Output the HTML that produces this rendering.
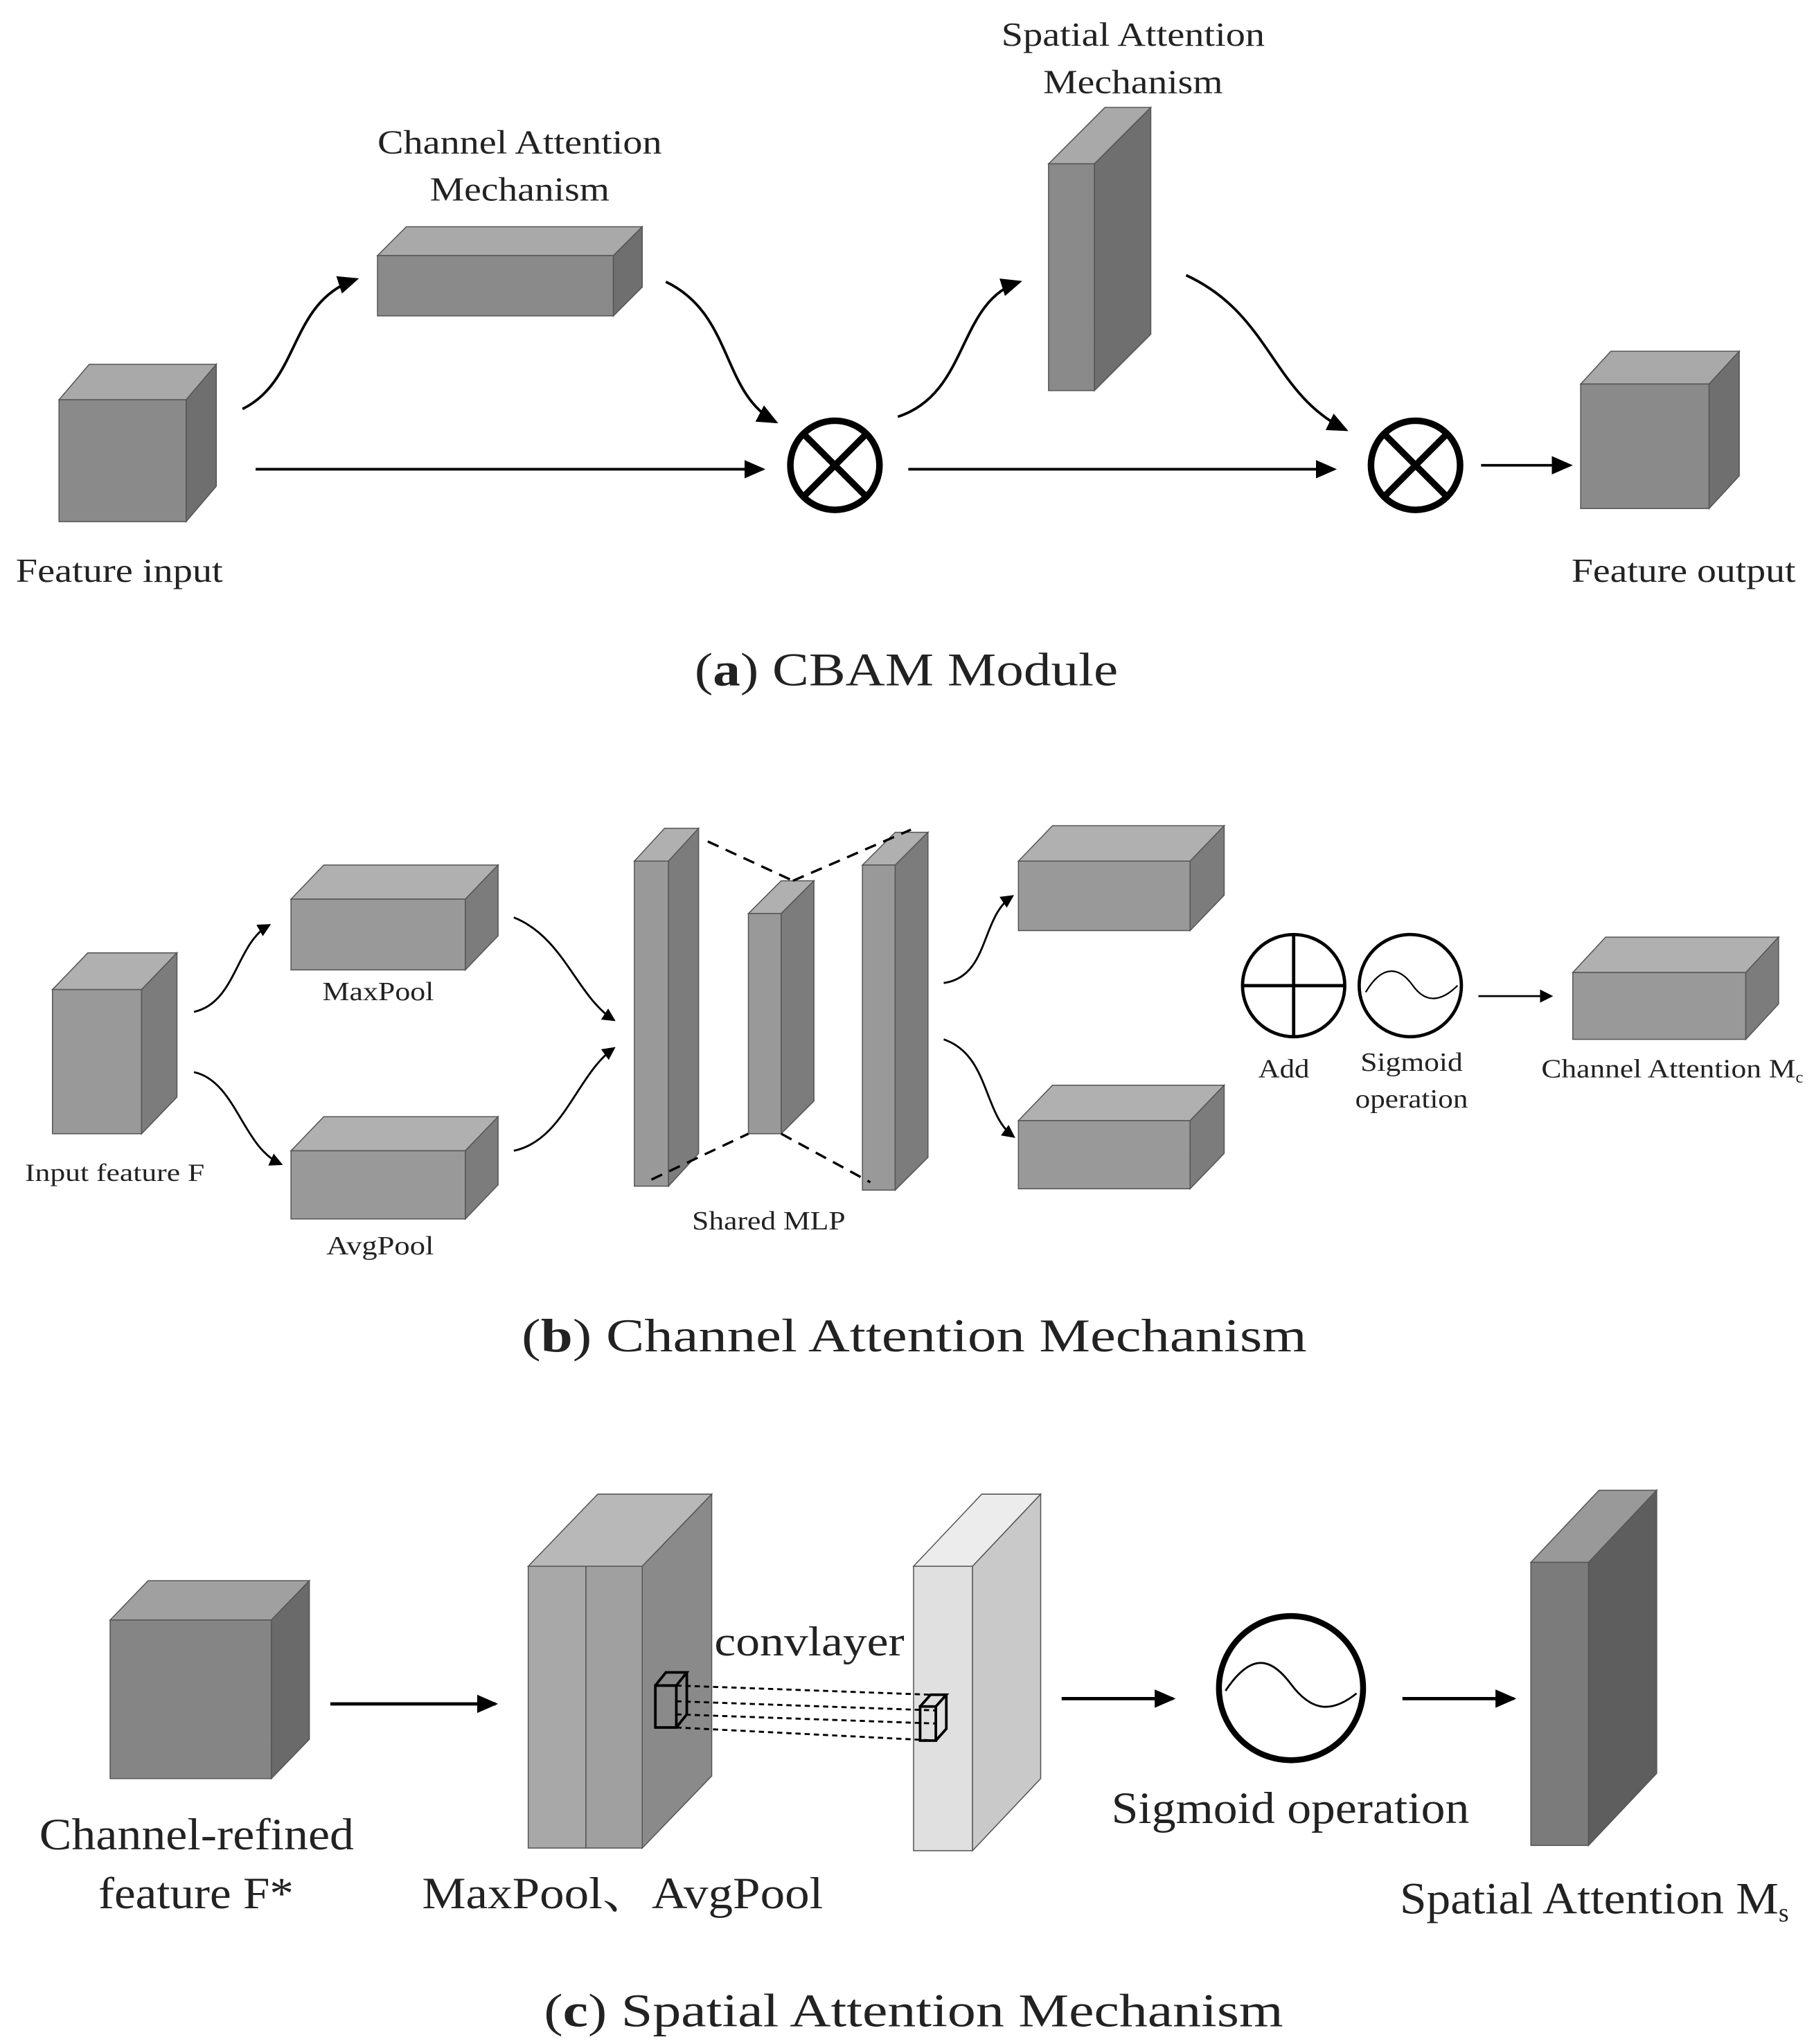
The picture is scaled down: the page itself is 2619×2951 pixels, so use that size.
<!DOCTYPE html>
<html><head><meta charset="utf-8"><style>
html,body{margin:0;padding:0;background:#fff;}
svg{display:block;}
text{font-family:"Liberation Serif","Noto Serif CJK SC",serif;fill:#222;}
</style></head><body>
<svg width="2619" height="2951" viewBox="0 0 1384 1559.5" xmlns="http://www.w3.org/2000/svg">
<defs>
<marker id="ah" markerWidth="10" markerHeight="10" refX="8" refY="5" orient="auto" markerUnits="userSpaceOnUse" viewBox="0 0 10 10">
<path d="M0,0 L10,5 L0,10 z" fill="#000"/></marker>
<marker id="ah2" markerWidth="16" markerHeight="14" refX="14" refY="7" orient="auto" markerUnits="userSpaceOnUse" viewBox="0 0 16 14">
<path d="M0,0 L16,7 L0,14 z" fill="#000"/></marker>
</defs>
<g id="cubes" stroke="#555" stroke-width="0.8">
<polygon points="45,305 68,278 165,278 142,305" fill="#a9a9a9"/><rect x="45" y="305" width="97" height="93" fill="#8a8a8a"/><polygon points="142,305 165,278 165,371 142,398" fill="#6f6f6f"/>
<polygon points="288,195 310,173 490,173 468,195" fill="#a9a9a9"/><rect x="288" y="195" width="180" height="46" fill="#8a8a8a"/><polygon points="468,195 490,173 490,219 468,241" fill="#6f6f6f"/>
<polygon points="800,125 843,82 878,82 835,125" fill="#a9a9a9"/><rect x="800" y="125" width="35" height="173" fill="#8a8a8a"/><polygon points="835,125 878,82 878,255 835,298" fill="#6f6f6f"/>
<polygon points="1206,293 1229,268 1327,268 1304,293" fill="#a9a9a9"/><rect x="1206" y="293" width="98" height="95" fill="#8a8a8a"/><polygon points="1304,293 1327,268 1327,363 1304,388" fill="#6f6f6f"/>
<polygon points="40,755 67,727 135,727 108,755" fill="#b0b0b0"/><rect x="40" y="755" width="68" height="110" fill="#999"/><polygon points="108,755 135,727 135,837 108,865" fill="#7c7c7c"/>
<polygon points="222,686 247,660 380,660 355,686" fill="#b0b0b0"/><rect x="222" y="686" width="133" height="54" fill="#999"/><polygon points="355,686 380,660 380,714 355,740" fill="#7c7c7c"/>
<polygon points="222,878 247,852 380,852 355,878" fill="#b0b0b0"/><rect x="222" y="878" width="133" height="52" fill="#999"/><polygon points="355,878 380,852 380,904 355,930" fill="#7c7c7c"/>
<polygon points="484,657 507,632 533,632 510,657" fill="#b0b0b0"/><rect x="484" y="657" width="26" height="248" fill="#999"/><polygon points="510,657 533,632 533,880 510,905" fill="#7c7c7c"/>
<polygon points="571,697 596,672 621,672 596,697" fill="#b0b0b0"/><rect x="571" y="697" width="25" height="168" fill="#999"/><polygon points="596,697 621,672 621,840 596,865" fill="#7c7c7c"/>
<polygon points="658,660 683,635 708,635 683,660" fill="#b0b0b0"/><rect x="658" y="660" width="25" height="248" fill="#999"/><polygon points="683,660 708,635 708,883 683,908" fill="#7c7c7c"/>
<polygon points="777,657 803,630 934,630 908,657" fill="#b0b0b0"/><rect x="777" y="657" width="131" height="53" fill="#999"/><polygon points="908,657 934,630 934,683 908,710" fill="#7c7c7c"/>
<polygon points="777,855 803,828 934,828 908,855" fill="#b0b0b0"/><rect x="777" y="855" width="131" height="52" fill="#999"/><polygon points="908,855 934,828 934,880 908,907" fill="#7c7c7c"/>
<polygon points="1200,742 1225,715 1357,715 1332,742" fill="#b0b0b0"/><rect x="1200" y="742" width="132" height="51" fill="#999"/><polygon points="1332,742 1357,715 1357,766 1332,793" fill="#7c7c7c"/>
<polygon points="84,1236 113,1206 236,1206 207,1236" fill="#a0a0a0"/><rect x="84" y="1236" width="123" height="121" fill="#858585"/><polygon points="207,1236 236,1206 236,1327 207,1357" fill="#6a6a6a"/>
<polygon points="403,1195 456,1140 543,1140 490,1195" fill="#b8b8b8"/><rect x="403" y="1195" width="44" height="215" fill="#a8a8a8"/><rect x="447" y="1195" width="43" height="215" fill="#a0a0a0"/><polygon points="490,1195 543,1140 543,1355 490,1410" fill="#8a8a8a"/>
<polygon points="697,1195 749,1140 794,1140 742,1195" fill="#ececec"/><rect x="697" y="1195" width="45" height="217" fill="#e0e0e0"/><polygon points="742,1195 794,1140 794,1357 742,1412" fill="#c9c9c9"/>
<polygon points="1168,1192 1220,1137 1264,1137 1212,1192" fill="#999"/><rect x="1168" y="1192" width="44" height="216" fill="#7b7b7b"/><polygon points="1212,1192 1264,1137 1264,1353 1212,1408" fill="#5e5e5e"/>
</g>
<g fill="none" stroke="#000" stroke-width="2">
<line x1="195" y1="358" x2="582" y2="358" marker-end="url(#ah2)"/>
<line x1="693" y1="358" x2="1018" y2="358" marker-end="url(#ah2)"/>
<line x1="1130" y1="355" x2="1198" y2="355" marker-end="url(#ah2)"/>
<path d="M185,312 C230,290 220,230 272,213" marker-end="url(#ah2)"/>
<path d="M508,215 C560,240 550,300 592,322" marker-end="url(#ah2)"/>
<path d="M685,318 C740,300 730,230 778,215" marker-end="url(#ah2)"/>
<path d="M905,210 C970,240 970,300 1027,328" marker-end="url(#ah2)"/>
</g>
<g fill="none" stroke="#000" stroke-width="5">
<circle cx="637" cy="355" r="34"/><line x1="613" y1="331" x2="661" y2="379"/><line x1="661" y1="331" x2="613" y2="379"/>
<circle cx="1080" cy="355" r="34"/><line x1="1056" y1="331" x2="1104" y2="379"/><line x1="1104" y1="331" x2="1056" y2="379"/>
</g>
<g lengthAdjust="spacingAndGlyphs">
<text x="288" y="117" font-size="26" textLength="217" lengthAdjust="spacingAndGlyphs">Channel Attention</text>
<text x="328" y="153" font-size="26" textLength="137" lengthAdjust="spacingAndGlyphs">Mechanism</text>
<text x="764" y="35" font-size="26" textLength="201" lengthAdjust="spacingAndGlyphs">Spatial Attention</text>
<text x="796" y="71" font-size="26" textLength="137" lengthAdjust="spacingAndGlyphs">Mechanism</text>
<text x="12" y="444" font-size="26" textLength="158" lengthAdjust="spacingAndGlyphs">Feature input</text>
<text x="1199" y="444" font-size="26" textLength="171" lengthAdjust="spacingAndGlyphs">Feature output</text>
<text x="530" y="523" font-size="36" textLength="323" lengthAdjust="spacingAndGlyphs">(<tspan font-weight="bold">a</tspan>) CBAM Module</text>
</g>
<g fill="none" stroke="#000" stroke-width="1.5">
<path d="M148,772 C180,765 180,720 205,706" marker-end="url(#ah)"/>
<path d="M148,818 C180,825 185,875 214,888" marker-end="url(#ah)"/>
<path d="M392,700 C430,715 440,760 468,778" marker-end="url(#ah)"/>
<path d="M392,878 C430,870 440,820 468,800" marker-end="url(#ah)"/>
<path d="M720,750 C755,745 748,700 772,684" marker-end="url(#ah)"/>
<path d="M720,793 C755,805 750,850 773,867" marker-end="url(#ah)"/>
<line x1="1128" y1="760" x2="1183" y2="760" marker-end="url(#ah)"/>
</g>
<g fill="none" stroke="#000" stroke-width="1.8" stroke-dasharray="9,6">
<line x1="540" y1="642" x2="605" y2="672"/><line x1="605" y1="672" x2="695" y2="633"/>
<line x1="497" y1="900" x2="571" y2="865"/><line x1="596" y1="865" x2="664" y2="902"/>
</g>
<g fill="none" stroke="#000" stroke-width="2.5">
<circle cx="987" cy="752" r="39"/><line x1="948" y1="752" x2="1026" y2="752"/><line x1="987" y1="713" x2="987" y2="791"/>
<circle cx="1076" cy="752" r="39"/>
</g>
<path d="M1042,757 C1055,735 1068,738 1078,752 C1088,766 1100,764 1112,752" fill="none" stroke="#000" stroke-width="1.2"/>
<text x="246" y="763" font-size="20" textLength="85" lengthAdjust="spacingAndGlyphs">MaxPool</text>
<text x="249" y="957" font-size="20" textLength="82" lengthAdjust="spacingAndGlyphs">AvgPool</text>
<text x="19" y="901" font-size="19" textLength="137" lengthAdjust="spacingAndGlyphs">Input feature F</text>
<text x="528" y="938" font-size="20" textLength="117" lengthAdjust="spacingAndGlyphs">Shared MLP</text>
<text x="960" y="822" font-size="20" textLength="39" lengthAdjust="spacingAndGlyphs">Add</text>
<text x="1038" y="817" font-size="20" textLength="78" lengthAdjust="spacingAndGlyphs">Sigmoid</text>
<text x="1034" y="845" font-size="20" textLength="86" lengthAdjust="spacingAndGlyphs">operation</text>
<text x="1176" y="822" font-size="20"><tspan textLength="194" lengthAdjust="spacingAndGlyphs">Channel Attention M</tspan><tspan font-size="13" dy="4">c</tspan></text>
<text x="398" y="1031" font-size="36" textLength="599" lengthAdjust="spacingAndGlyphs">(<tspan font-weight="bold">b</tspan>) Channel Attention Mechanism</text>
<g fill="none" stroke="#000" stroke-width="2.5">
<line x1="252" y1="1300" x2="378" y2="1300" marker-end="url(#ah2)"/>
<line x1="810" y1="1296" x2="895" y2="1296" marker-end="url(#ah2)"/>
<line x1="1070" y1="1296" x2="1155" y2="1296" marker-end="url(#ah2)"/>
</g>
<circle cx="985" cy="1288" r="55" fill="none" stroke="#000" stroke-width="4.5"/>
<path d="M935,1290 C955,1260 970,1265 985,1285 C1000,1305 1015,1308 1035,1292" fill="none" stroke="#000" stroke-width="1.5"/>
<g fill="none" stroke="#000" stroke-width="2">
<rect x="500" y="1286" width="16" height="32"/><polyline points="500,1286 508,1276 524,1276 516,1286"/><polyline points="524,1276 524,1308 516,1318"/>
<rect x="702" y="1302" width="12" height="26"/><polyline points="702,1302 710,1293 722,1293 714,1302"/><polyline points="722,1293 722,1319 714,1328"/>
</g>
<g fill="none" stroke="#000" stroke-width="1.5" stroke-dasharray="4,3">
<line x1="516" y1="1286" x2="710" y2="1293"/><line x1="516" y1="1298" x2="714" y2="1305"/><line x1="516" y1="1308" x2="714" y2="1315"/><line x1="516" y1="1318" x2="714" y2="1328"/>
</g>
<text x="545" y="1263" font-size="32" textLength="145" lengthAdjust="spacingAndGlyphs">convlayer</text>
<text x="30" y="1411" font-size="34" textLength="240" lengthAdjust="spacingAndGlyphs">Channel-refined</text>
<text x="75" y="1456" font-size="34" textLength="149" lengthAdjust="spacingAndGlyphs">feature F*</text>
<text x="322" y="1456" font-size="34" textLength="306" lengthAdjust="spacingAndGlyphs">MaxPool、AvgPool</text>
<text x="848" y="1391" font-size="34" textLength="273" lengthAdjust="spacingAndGlyphs">Sigmoid operation</text>
<text x="1068" y="1460" font-size="34"><tspan textLength="289" lengthAdjust="spacingAndGlyphs">Spatial Attention M</tspan><tspan font-size="20" dy="6">s</tspan></text>
<text x="415" y="1546" font-size="36" textLength="564" lengthAdjust="spacingAndGlyphs">(<tspan font-weight="bold">c</tspan>) Spatial Attention Mechanism</text>
</svg>
</body></html>
